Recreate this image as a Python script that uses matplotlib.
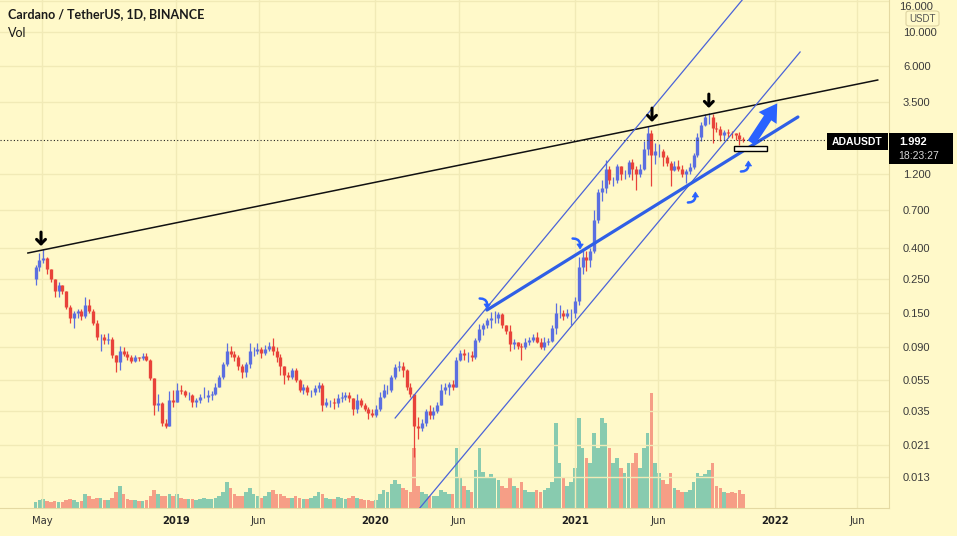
import numpy as np
import matplotlib
matplotlib.use('Agg')
import matplotlib.pyplot as plt
import matplotlib.dates as mdates
from matplotlib.patches import Rectangle, FancyBboxPatch, Polygon
from matplotlib.transforms import ScaledTranslation

# ---------------- data (weekly summary of ADA/USDT daily candles) ----------------
first_week = '2018-04-16'
first_open = 0.25
close = [
    0.30, 0.33, 0.34, 0.29, 0.25, 0.21, 0.23, 0.21, 0.165, 0.14,
    0.15, 0.155, 0.145, 0.17, 0.155, 0.13, 0.105, 0.105, 0.10, 0.102,
    0.08, 0.072, 0.085, 0.082, 0.078, 0.074, 0.078, 0.077, 0.079, 0.075,
    0.057, 0.038, 0.039, 0.029, 0.028, 0.041, 0.040, 0.048,
    0.047, 0.044, 0.044, 0.040, 0.041, 0.043, 0.043, 0.044, 0.045, 0.050, 0.058, 0.070,
    0.085, 0.082, 0.078, 0.068, 0.062, 0.070, 0.085, 0.085, 0.088, 0.083,
    0.088, 0.092, 0.085, 0.078, 0.068, 0.060, 0.058, 0.064, 0.055, 0.048,
    0.050, 0.046, 0.046, 0.049, 0.051, 0.038, 0.040, 0.040, 0.039, 0.042,
    0.043, 0.044, 0.042, 0.036, 0.041, 0.038, 0.036, 0.034, 0.033, 0.036,
    0.043, 0.048, 0.048, 0.058, 0.067, 0.068, 0.064, 0.050, 0.045, 0.028,
    0.027, 0.029, 0.035, 0.033, 0.035, 0.038, 0.048, 0.050, 0.052, 0.050,
    0.075, 0.083, 0.080, 0.080, 0.078, 0.100, 0.118, 0.125, 0.135, 0.140,
    0.140, 0.148, 0.125, 0.115, 0.095, 0.098, 0.092, 0.090, 0.098, 0.100,
    0.105, 0.098, 0.090, 0.097, 0.099, 0.120, 0.150, 0.150, 0.145, 0.150,
    0.150, 0.180,
    0.300, 0.350, 0.330, 0.380, 0.600, 0.920, 0.980, 1.300,
    1.100, 1.100, 1.350, 1.200, 1.200, 1.430, 1.300, 1.200, 1.300, 1.750,
    2.200, 1.600, 1.700, 1.700, 1.550, 1.420, 1.280, 1.350, 1.300, 1.200,
    1.250, 1.330, 1.600, 2.100, 2.500, 2.800, 2.800, 2.400, 2.350, 2.150,
    2.250, 2.220, 2.200, 2.150, 2.030, 1.992]
high = [
    0.31, 0.37, 0.39, 0.35, 0.29, 0.25, 0.24, 0.23, 0.21, 0.17,
    0.155, 0.16, 0.16, 0.19, 0.185, 0.16, 0.135, 0.11, 0.11, 0.112,
    0.105, 0.08, 0.092, 0.09, 0.085, 0.08, 0.08, 0.078, 0.083, 0.083,
    0.076, 0.057, 0.045, 0.04, 0.031, 0.047, 0.048, 0.053,
    0.051, 0.048, 0.046, 0.045, 0.042, 0.045, 0.050, 0.048, 0.047, 0.053, 0.060, 0.072,
    0.096, 0.092, 0.085, 0.080, 0.070, 0.072, 0.096, 0.091, 0.096, 0.090,
    0.094, 0.098, 0.104, 0.090, 0.082, 0.068, 0.062, 0.066, 0.066, 0.056,
    0.052, 0.051, 0.048, 0.051, 0.054, 0.053, 0.042, 0.041, 0.042, 0.045,
    0.046, 0.046, 0.046, 0.042, 0.045, 0.042, 0.039, 0.037, 0.036, 0.038,
    0.046, 0.052, 0.051, 0.060, 0.070, 0.074, 0.072, 0.065, 0.053, 0.045,
    0.032, 0.031, 0.036, 0.038, 0.037, 0.040, 0.052, 0.053, 0.054, 0.055,
    0.078, 0.087, 0.088, 0.084, 0.085, 0.103, 0.127, 0.130, 0.140, 0.152,
    0.155, 0.153, 0.150, 0.125, 0.125, 0.102, 0.098, 0.096, 0.103, 0.105,
    0.110, 0.113, 0.104, 0.105, 0.103, 0.125, 0.175, 0.170, 0.158, 0.160,
    0.160, 0.190,
    0.35, 0.39, 0.38, 0.40, 0.70, 0.96, 1.10, 1.48,
    1.35, 1.15, 1.40, 1.35, 1.28, 1.48, 1.50, 1.35, 1.40, 1.95,
    2.47, 2.30, 1.90, 1.87, 1.75, 1.60, 1.45, 1.45, 1.48, 1.38,
    1.30, 1.42, 1.65, 2.20, 2.60, 2.95, 3.00, 2.95, 2.60, 2.45,
    2.30, 2.35, 2.28, 2.20, 2.25, 2.10]
low = [
    0.23, 0.28, 0.32, 0.27, 0.24, 0.19, 0.19, 0.20, 0.16, 0.13,
    0.12, 0.14, 0.135, 0.14, 0.15, 0.125, 0.10, 0.085, 0.095, 0.095,
    0.077, 0.062, 0.064, 0.079, 0.075, 0.071, 0.072, 0.073, 0.075, 0.073,
    0.055, 0.033, 0.035, 0.028, 0.027, 0.028, 0.037, 0.040,
    0.045, 0.043, 0.041, 0.037, 0.037, 0.039, 0.042, 0.040, 0.041, 0.044, 0.050, 0.056,
    0.068, 0.078, 0.074, 0.064, 0.057, 0.058, 0.066, 0.079, 0.082, 0.077,
    0.080, 0.086, 0.080, 0.072, 0.060, 0.052, 0.055, 0.056, 0.054, 0.046,
    0.045, 0.044, 0.043, 0.044, 0.046, 0.035, 0.037, 0.037, 0.036, 0.037,
    0.040, 0.041, 0.040, 0.033, 0.034, 0.037, 0.035, 0.031, 0.032, 0.032,
    0.035, 0.042, 0.045, 0.046, 0.056, 0.063, 0.058, 0.048, 0.043, 0.0175,
    0.023, 0.026, 0.028, 0.031, 0.031, 0.034, 0.038, 0.045, 0.044, 0.048,
    0.050, 0.074, 0.075, 0.072, 0.074, 0.076, 0.098, 0.108, 0.120, 0.120,
    0.130, 0.130, 0.120, 0.110, 0.085, 0.088, 0.088, 0.075, 0.088, 0.093,
    0.098, 0.096, 0.088, 0.087, 0.094, 0.097, 0.110, 0.140, 0.135, 0.140,
    0.125, 0.140,
    0.17, 0.27, 0.28, 0.30, 0.37, 0.58, 0.80, 0.90,
    1.03, 1.00, 1.05, 1.10, 1.12, 1.15, 1.10, 0.95, 1.15, 1.28,
    1.60, 1.00, 1.40, 1.55, 1.35, 1.35, 1.00, 1.25, 1.25, 1.15,
    1.05, 1.20, 1.30, 1.55, 1.95, 2.45, 2.55, 1.90, 2.25, 1.95,
    2.00, 2.10, 2.05, 2.00, 1.85, 1.93]
volume = [
    6, 8, 9, 7, 6, 7, 6, 6, 8, 9,
    8, 6, 7, 14, 12, 9, 10, 10, 8, 8,
    10, 16, 22, 14, 9, 8, 8, 7, 7, 8,
    12, 18, 14, 12, 12, 14, 12, 14,
    10, 9, 9, 9, 8, 9, 10, 9, 9, 10, 12, 16,
    26, 20, 14, 12, 12, 16, 20, 14, 12, 10,
    12, 16, 18, 14, 14, 12, 10, 10, 12, 10,
    9, 9, 10, 12, 16, 14, 10, 9, 9, 11,
    10, 9, 10, 12, 10, 9, 8, 8, 7, 8,
    14, 18, 16, 24, 28, 24, 20, 18, 16, 60,
    22, 16, 14, 12, 12, 12, 18, 16, 14, 14,
    60, 30, 22, 18, 16, 38, 60, 36, 30, 34,
    30, 28, 22, 20, 30, 22, 20, 26, 18, 16,
    16, 18, 16, 18, 20, 26, 85, 45, 30, 22,
    26, 40,
    90, 60, 50, 45, 75, 60, 90, 85,
    60, 45, 50, 40, 35, 45, 45, 55, 40, 60,
    75, 115, 45, 35, 28, 24, 35, 20, 18, 16,
    16, 18, 26, 35, 32, 34, 38, 45, 22, 20,
    16, 15, 16, 15, 18, 14]

price_ticks = [10, 6, 3.5, 1.2, 0.7, 0.4, 0.25, 0.15, 0.09, 0.055, 0.035, 0.021, 0.013]
top_price_label = 16
date_ticks = ['2018-05-01', '2019-01-01', '2019-06-01', '2020-01-01', '2020-06-01',
              '2021-01-01', '2021-06-01', '2022-01-01', '2022-06-01']
date_labels = ['May', '2019', 'Jun', '2020', 'Jun', '2021', 'Jun', '2022', 'Jun']
last_price = 1.992
countdown = '18:23:27'
symbol = 'ADAUSDT'
title = 'Cardano / TetherUS, 1D, BINANCE'

# drawings (date, price)
resistance_dates = ['2018-04-05', '2022-07-08']
resistance_prices = [0.3688, 4.883]
upper_channel_dates = ['2020-02-06', '2021-11-02']
upper_channel_prices = [0.03139, 16.12]
lower_channel_dates = ['2020-03-22', '2022-02-16']
lower_channel_prices = [0.00818, 7.42]
support_dates = ['2020-07-23', '2022-02-12']
support_prices = [0.1574, 2.811]
target_arrow_dates = ['2021-11-16', '2022-01-08']
target_arrow_prices = [1.850, 3.568]
box_dates = ['2021-10-18', '2021-12-17']
box_prices = [1.691, 1.823]
peak_dates = ['2018-04-29', '2021-05-21', '2021-09-02']
peak_prices = [0.4095, 2.609, 3.215]
bounce_dates = ['2020-07-17', '2021-01-03', '2021-08-02', '2021-11-07']
bounce_prices = [0.1748, 0.4281, 0.8385, 1.332]
bounce_dirs = [-1, -1, 1, 1]   # -1: curving down, 1: curving up

# ---------------- style ----------------
BG = '#fff9c9'
GRID = '#f1eab6'
UP = '#5b6fe0'
DOWN = '#e8433a'
VUP = '#26a69a'
VDOWN = '#ef5350'
BLUE = '#4a63d8'
ICON = '#2962ff'

W, H = 957, 536
fig = plt.figure(figsize=(W / 100, H / 100), dpi=100, facecolor=BG)
rect = [0, 28 / H, 889 / W, 508 / H]
axv = fig.add_axes(rect)
ax = fig.add_axes(rect, sharex=axv)
axv.set_facecolor(BG)
ax.patch.set_visible(False)

def d2n(s):
    return mdates.date2num(np.datetime64(s))

n = len(close)
wk = np.datetime64(first_week) + 7 * np.arange(n)
x = mdates.date2num(wk) + 3.0
c = np.array(close)
o = np.concatenate([[first_open], c[:-1]])
h = np.array(high)
l = np.array(low)
upmask = c >= o
cols = np.where(upmask, UP, DOWN)

# volume
axv.bar(x, volume, width=6.6, color=np.where(upmask, VUP, VDOWN), alpha=0.55, linewidth=0)
axv.set_ylim(0, 508)
axv.axis('off')

# scales and grid
ref = d2n('2019-01-01')
ax.set_xlim(ref - 176 / 0.5465, ref + 713 / 0.5465)
ax.set_yscale('log')
ax.set_ylim(10 ** (1 - 476 / 154.2), 10 ** (1 + 32 / 154.2))
for p in price_ticks + [top_price_label]:
    ax.axhline(p, color=GRID, lw=1, zorder=0)
for d in date_ticks:
    ax.axvline(d2n(d), color=GRID, lw=1, zorder=0)

# candles
ax.vlines(x, l, h, colors=cols, lw=0.9, zorder=3)
ax.vlines(x, np.minimum(o, c), np.maximum(o, c), colors=cols, lw=2.4, zorder=3)

# drawings
ax.plot([d2n(d) for d in resistance_dates], resistance_prices, color='#111111', lw=1.1, zorder=4)
ax.plot([d2n(d) for d in upper_channel_dates], upper_channel_prices, color=BLUE, lw=0.9, zorder=4)
ax.plot([d2n(d) for d in lower_channel_dates], lower_channel_prices, color=BLUE, lw=0.9, zorder=4)
ax.plot([d2n(d) for d in support_dates], support_prices, color='#2f5fe6', lw=2.3, zorder=4,
        solid_capstyle='round')
ax.annotate('', xy=(d2n(target_arrow_dates[1]), target_arrow_prices[1]),
            xytext=(d2n(target_arrow_dates[0]), target_arrow_prices[0]),
            arrowprops=dict(arrowstyle='simple,head_length=0.9,head_width=1.1,tail_width=0.45',
                            color=ICON, lw=0, mutation_scale=14), zorder=6)
bx0, bx1 = d2n(box_dates[0]), d2n(box_dates[1])
ax.add_patch(Rectangle((bx0, box_prices[0]), bx1 - bx0, box_prices[1] - box_prices[0],
                       facecolor='#fffde8', edgecolor='black', lw=1.0, zorder=5))
for d, p in zip(peak_dates, peak_prices):
    ax.annotate('', xy=(d2n(d), p), xytext=(0, 10), textcoords='offset points',
                arrowprops=dict(arrowstyle='->,head_width=0.32,head_length=0.32', lw=2.2,
                                color='black', shrinkA=0, shrinkB=0), zorder=6)

# small curved arrow icons (shape in pixels / 100 = inches, relative to anchor)
hook_x = np.array([-4.0, -1.0, 1.5, 3.0, 3.5]) / 100
hook_y = np.array([-4.5, -4.2, -3.0, -1.0, 1.5]) / 100
head_x = np.array([0.3, 6.7, 3.5]) / 100
head_y = np.array([1.0, 1.0, 6.0]) / 100
for d, p, sgn in zip(bounce_dates, bounce_prices, bounce_dirs):
    tr = fig.dpi_scale_trans + ScaledTranslation(d2n(d), p, ax.transData)
    ax.plot(hook_x, sgn * hook_y, color=ICON, lw=1.8, transform=tr, zorder=6,
            solid_capstyle='round')
    ax.add_patch(Polygon(np.column_stack([head_x, sgn * head_y]), closed=True,
                         facecolor=ICON, edgecolor=ICON, lw=0.5, transform=tr, zorder=6))

ax.axhline(last_price, xmax=827 / 889, color='#222222', lw=0.8, ls=(0, (1, 2)), zorder=4)

# axes styling
for s in ['top', 'left']:
    ax.spines[s].set_visible(False)
ax.spines['right'].set_color('#e4d9a2')
ax.spines['bottom'].set_color('#e4d9a2')
ax.yaxis.tick_right()
ax.set_yticks(price_ticks)
ax.set_yticklabels(['%.3f' % p for p in price_ticks])
ax.yaxis.set_minor_locator(matplotlib.ticker.NullLocator())
ax.tick_params(axis='y', length=0, pad=10, labelsize=8, labelcolor='#3a3a3a')
for t in ax.get_yticklabels():
    t.set_family(['Liberation Sans', 'DejaVu Sans'])
ax.set_xticks([d2n(d) for d in date_ticks])
ax.set_xticklabels(date_labels)
ax.tick_params(axis='x', length=0, pad=6, labelsize=8, labelcolor='#333333')
for t, lab in zip(ax.get_xticklabels(), date_labels):
    t.set_family(['Liberation Sans Narrow', 'DejaVu Sans'])
    t.set_stretch('condensed')
    if lab.isdigit():
        t.set_fontweight('bold')
        t.set_color('#1f1f1f')

# labels
fig.text(8 / W, 1 - 14 / H, title, fontsize=9, fontweight='bold', color='#1a1a1a',
         va='center', ha='left', family=['Lato', 'DejaVu Sans'])
fig.text(8 / W, 1 - 33 / H, 'Vol', fontsize=9, color='#1a1a1a', va='center', ha='left',
         family=['Lato', 'DejaVu Sans'])
fig.text(899 / W, 1 - 7 / H, '%.3f' % top_price_label, fontsize=8, color='#3a3a3a',
         va='center', ha='left', family=['Liberation Sans', 'DejaVu Sans'])

def fig_rect(x0, y0, x1, y1, **kw):
    fig.add_artist(Rectangle((x0 / W, 1 - y1 / H), (x1 - x0) / W, (y1 - y0) / H,
                             transform=fig.transFigure, **kw))

fig_rect(827, 133, 888, 150, facecolor='black', edgecolor='none')
fig.text(857.5 / W, 1 - 142 / H, symbol, color='white', fontsize=7.5, fontweight='bold',
         ha='center', va='center', family=['Liberation Sans', 'DejaVu Sans'])
fig_rect(889, 133, 953, 164, facecolor='black', edgecolor='none')
fig.text(899 / W, 1 - 142 / H, '%.3f' % last_price, color='white', fontsize=8, fontweight='bold',
         ha='left', va='center', family=['Liberation Sans', 'DejaVu Sans'])
fig.text(898 / W, 1 - 156 / H, countdown, color='#d8d8d8', fontsize=7.5,
         ha='left', va='center', family=['Liberation Sans', 'DejaVu Sans'])
fig.add_artist(FancyBboxPatch((906 / W, 1 - 26 / H), 33 / W, 15 / H,
                              boxstyle='round,pad=0,rounding_size=0.004',
                              transform=fig.transFigure, facecolor=BG, edgecolor='#ddd3a0', lw=0.8))
fig.text(922.5 / W, 1 - 18.5 / H, 'USDT', color='#555555', fontsize=7, ha='center', va='center',
         family=['Liberation Sans', 'DejaVu Sans'])

fig.savefig('out.png', dpi=100, facecolor=BG)
